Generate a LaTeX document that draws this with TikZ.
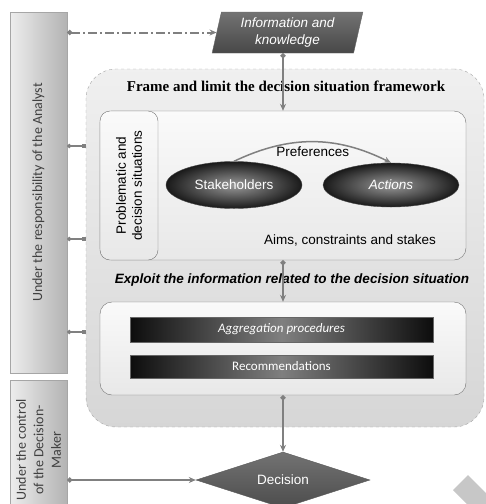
\documentclass[tikz,border=0pt]{standalone}
\usepackage{fontspec}
\setmainfont{Liberation Sans}
\newfontfamily\calfont{Carlito}
\newfontfamily\serfont{Liberation Serif}
\usetikzlibrary{shapes.geometric,arrows.meta}

\begin{document}
\begin{tikzpicture}[x=1pt,y=-1pt,
    colbox/.style={draw=black!35,left color=black!7,right color=black!30},
    coltext/.style={rotate=90,align=center,text=black!75,font=\calfont\fontsize{14}{17.5}\selectfont},
    areabox/.style={draw=black!35,dashed,rounded corners=30pt,top color=black!6,bottom color=black!16},
    subbox/.style={draw=black!55,rounded corners=12pt,top color=black!2,bottom color=black!9},
    oval/.style={ellipse,draw=black!70,inner color=black!40,outer color=black!90,text=white,txt},
    procbar/.style={draw=black!60,left color=black!95,right color=black!95,middle color=black!50,
        text=white,font=\calfont\fontsize{13}{15}\selectfont},
    txt/.style={font=\fontsize{13.5}{16}\selectfont},
    conn/.style={draw=black!50,line width=2pt,{Circle[length=5pt]}-{Stealth[length=7pt,width=6pt]}},
    tapline/.style={draw=black!50,line width=1.6pt,{Circle[length=4pt]}-{Square[length=4pt]}}
  ]
  \useasboundingbox (0,0) rectangle (486,504);
  \clip (0,0) rectangle (486,504);

  % the two responsibility columns
  \node[colbox,minimum width=57pt,minimum height=361pt,
    label={[coltext]center:Under the responsibility of the Analyst}] (analyst) at (38.5,192.5) {};
  \node[colbox,minimum width=57pt,minimum height=140pt,
    label={[coltext]center:Under the control\\of the Decision-\\Maker}] (dm) at (38.5,450) {};

  \node[trapezium,trapezium left angle=79,trapezium right angle=101,trapezium stretches=true,
    minimum width=151pt,minimum height=41pt,draw=black!60,top color=black!55,bottom color=black!72,
    text=white,align=center,font=\itshape\fontsize{13.5}{17}\selectfont] (info) at (287.5,32.5)
    {Information and\\knowledge};

  % framing area
  \node[areabox,minimum width=398pt,minimum height=358pt] (frame) at (285,248) {};
  \node[font=\serfont\bfseries\fontsize{15}{18}\selectfont] (frametitle) at (286,86)
    {Frame and limit the decision situation framework};
  \node[subbox,minimum width=366pt,minimum height=149pt] (situation) at (283,185.5) {};
  \node[subbox,rounded corners=10pt,minimum width=58pt,minimum height=149pt,
    label={[rotate=90,align=center,txt]center:Problematic and\\decision situations}] (probl) at (129,185.5) {};
  \node[oval,minimum width=136pt,minimum height=47pt] (stake) at (234,185) {Stakeholders};
  \node[oval,minimum width=136pt,minimum height=44pt] (actions) at (391,185) {\itshape Actions};
  \draw[draw=black!50,line width=1.5pt,-{Stealth[length=7pt,width=6pt]}]
    (stake.north) to[bend left=26] node[midway,below=1pt,txt] (pref) {Preferences} (actions.north);
  \node[txt] (aims) at (350,240) {Aims, constraints and stakes};

  % exploitation area
  \node[font=\bfseries\itshape\fontsize{13.5}{16}\selectfont] (exploittitle) at (292,280)
    {Exploit the information related to the decision situation};
  \node[subbox,minimum width=366pt,minimum height=93pt] (processing) at (283,348.5) {};
  \node[procbar,minimum width=303pt,minimum height=25pt] (aggreg) at (281.5,329.5) {\itshape Aggregation procedures};
  \node[procbar,minimum width=303pt,minimum height=23pt] (recom) at (281.5,366.5) {Recommendations};

  \node[diamond,aspect=3.1,minimum width=174pt,minimum height=56pt,inner sep=0pt,draw=black!65,
    top color=black!55,bottom color=black!70,text=white,txt] (decision) at (283,480) {Decision};

  % connectors
  \draw[conn,dash pattern=on 9pt off 3pt on 2pt off 3pt] (analyst.east |- info.west) -- (info.west);
  \draw[conn] (situation.north |- info.south) -- (situation.north);
  \draw[conn] (situation.south) -- (processing.north);
  \draw[conn] (processing.south) -- (decision.north);
  \draw[conn] (dm.east |- decision.west) -- (decision.west);
  \foreach \y [count=\i] in {146,239,332}
    \coordinate (tap\i) at (86,\y);
  \foreach \i in {1,2,3}
    \draw[tapline] (analyst.east |- tap\i) -- (tap\i);

  \fill[black!22] (453,490) -- (468,475) -- (500,507) -- (485,522) -- cycle;
\end{tikzpicture}
\end{document}
